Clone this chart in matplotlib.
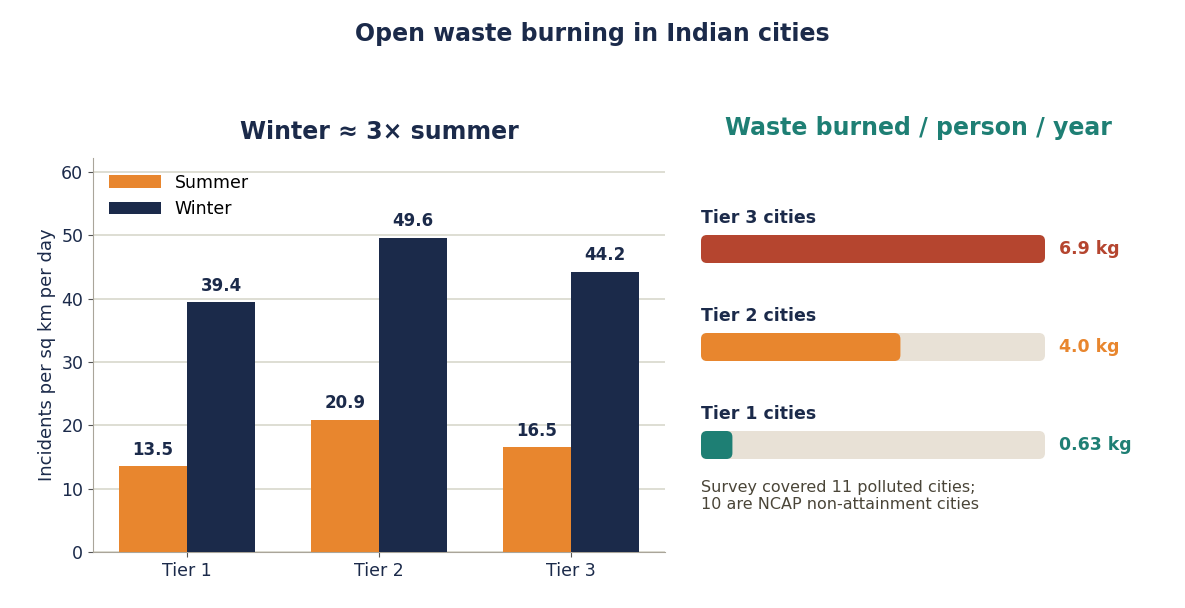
import matplotlib
matplotlib.use("Agg")
import matplotlib.pyplot as plt
from matplotlib.patches import FancyBboxPatch
import numpy as np

tiers = ["Tier 1", "Tier 2", "Tier 3"]
summer = [13.5, 20.9, 16.5]
winter = [39.4, 49.6, 44.2]
waste_labels = ["Tier 3 cities", "Tier 2 cities", "Tier 1 cities"]
waste_vals = [6.9, 4.0, 0.63]
waste_text = ["6.9 kg", "4.0 kg", "0.63 kg"]
waste_colors = ["#B5452F", "#E8862E", "#1E7F74"]

NAVY = "#1B2A4A"; ORANGE = "#E8862E"; GRID = "#D8D8CC"; TRACK = "#E8E1D6"
W, H = 1185, 608
fig = plt.figure(figsize=(11.85, 6.08), dpi=100)
fig.text(592/W, 1-34/H, "Open waste burning in Indian cities", ha="center", va="center",
         fontsize=17, fontweight="bold", color=NAVY)

ax = fig.add_axes([93/W, 1-552/H, (665-93)/W, (552-158)/H])
x = np.arange(len(tiers)); bw = 0.355
b1 = ax.bar(x - bw/2, summer, bw, color=ORANGE, label="Summer", zorder=3)
b2 = ax.bar(x + bw/2, winter, bw, color=NAVY, label="Winter", zorder=3)
for bars, vals in ((b1, summer), (b2, winter)):
    for r, v in zip(bars, vals):
        ax.text(r.get_x()+r.get_width()/2, v+1.2, f"{v:.1f}", ha="center", va="bottom",
                fontsize=12, fontweight="bold", color=NAVY)
ax.set_xlim(-0.49, 2.49); ax.set_ylim(0, 62.2)
ax.set_yticks(range(0, 61, 10)); ax.set_xticks(x); ax.set_xticklabels(tiers)
ax.yaxis.grid(True, color=GRID, lw=1.2, zorder=0)
for s in ("top", "right"): ax.spines[s].set_visible(False)
for s in ("left", "bottom"): ax.spines[s].set_color("#AAA59A")
ax.tick_params(labelsize=12.5, colors=NAVY)
ax.tick_params(axis="both", color="#555555")
ax.set_ylabel("Incidents per sq km per day", fontsize=13, color=NAVY)
ax.set_title("Winter ≈ 3× summer", fontsize=17, fontweight="bold", color=NAVY, pad=14)
ax.legend(loc="upper left", frameon=False, fontsize=12.5, handlelength=3)

ax2 = fig.add_axes([701/W, 1-552/H, (1045-701)/W, (552-158)/H])
ax2.set_xlim(0, 6.9); ax2.set_ylim(552, 158); ax2.axis("off")
xpp = 6.9/344
centers = [249, 347, 445]
for lab, v, t, c, cy in zip(waste_labels, waste_vals, waste_text, waste_colors, centers):
    for width, col in ((6.9, TRACK), (v, c)):
        p = FancyBboxPatch((0, cy-14), width, 28, boxstyle=f"round,pad=0,rounding_size={6*xpp}",
                           mutation_aspect=1/xpp, fc=col, ec="none", clip_on=False)
        ax2.add_patch(p)
    ax2.text(0, cy-31, lab, fontsize=12.5, fontweight="bold", color=NAVY, va="center", ha="left")
    ax2.text(6.9+14*xpp, cy, t, fontsize=12.5, fontweight="bold", color=c, va="center", ha="left")
ax2.text(0, 496, "Survey covered 11 polluted cities;\n10 are NCAP non-attainment cities",
         fontsize=11.5, color="#4A4538", va="center", ha="left", linespacing=1.1)
fig.text(918/W, 1-128/H, "Waste burned / person / year", ha="center", va="center",
         fontsize=17, fontweight="bold", color="#1E7F74")
fig.savefig("out.png", dpi=100)
